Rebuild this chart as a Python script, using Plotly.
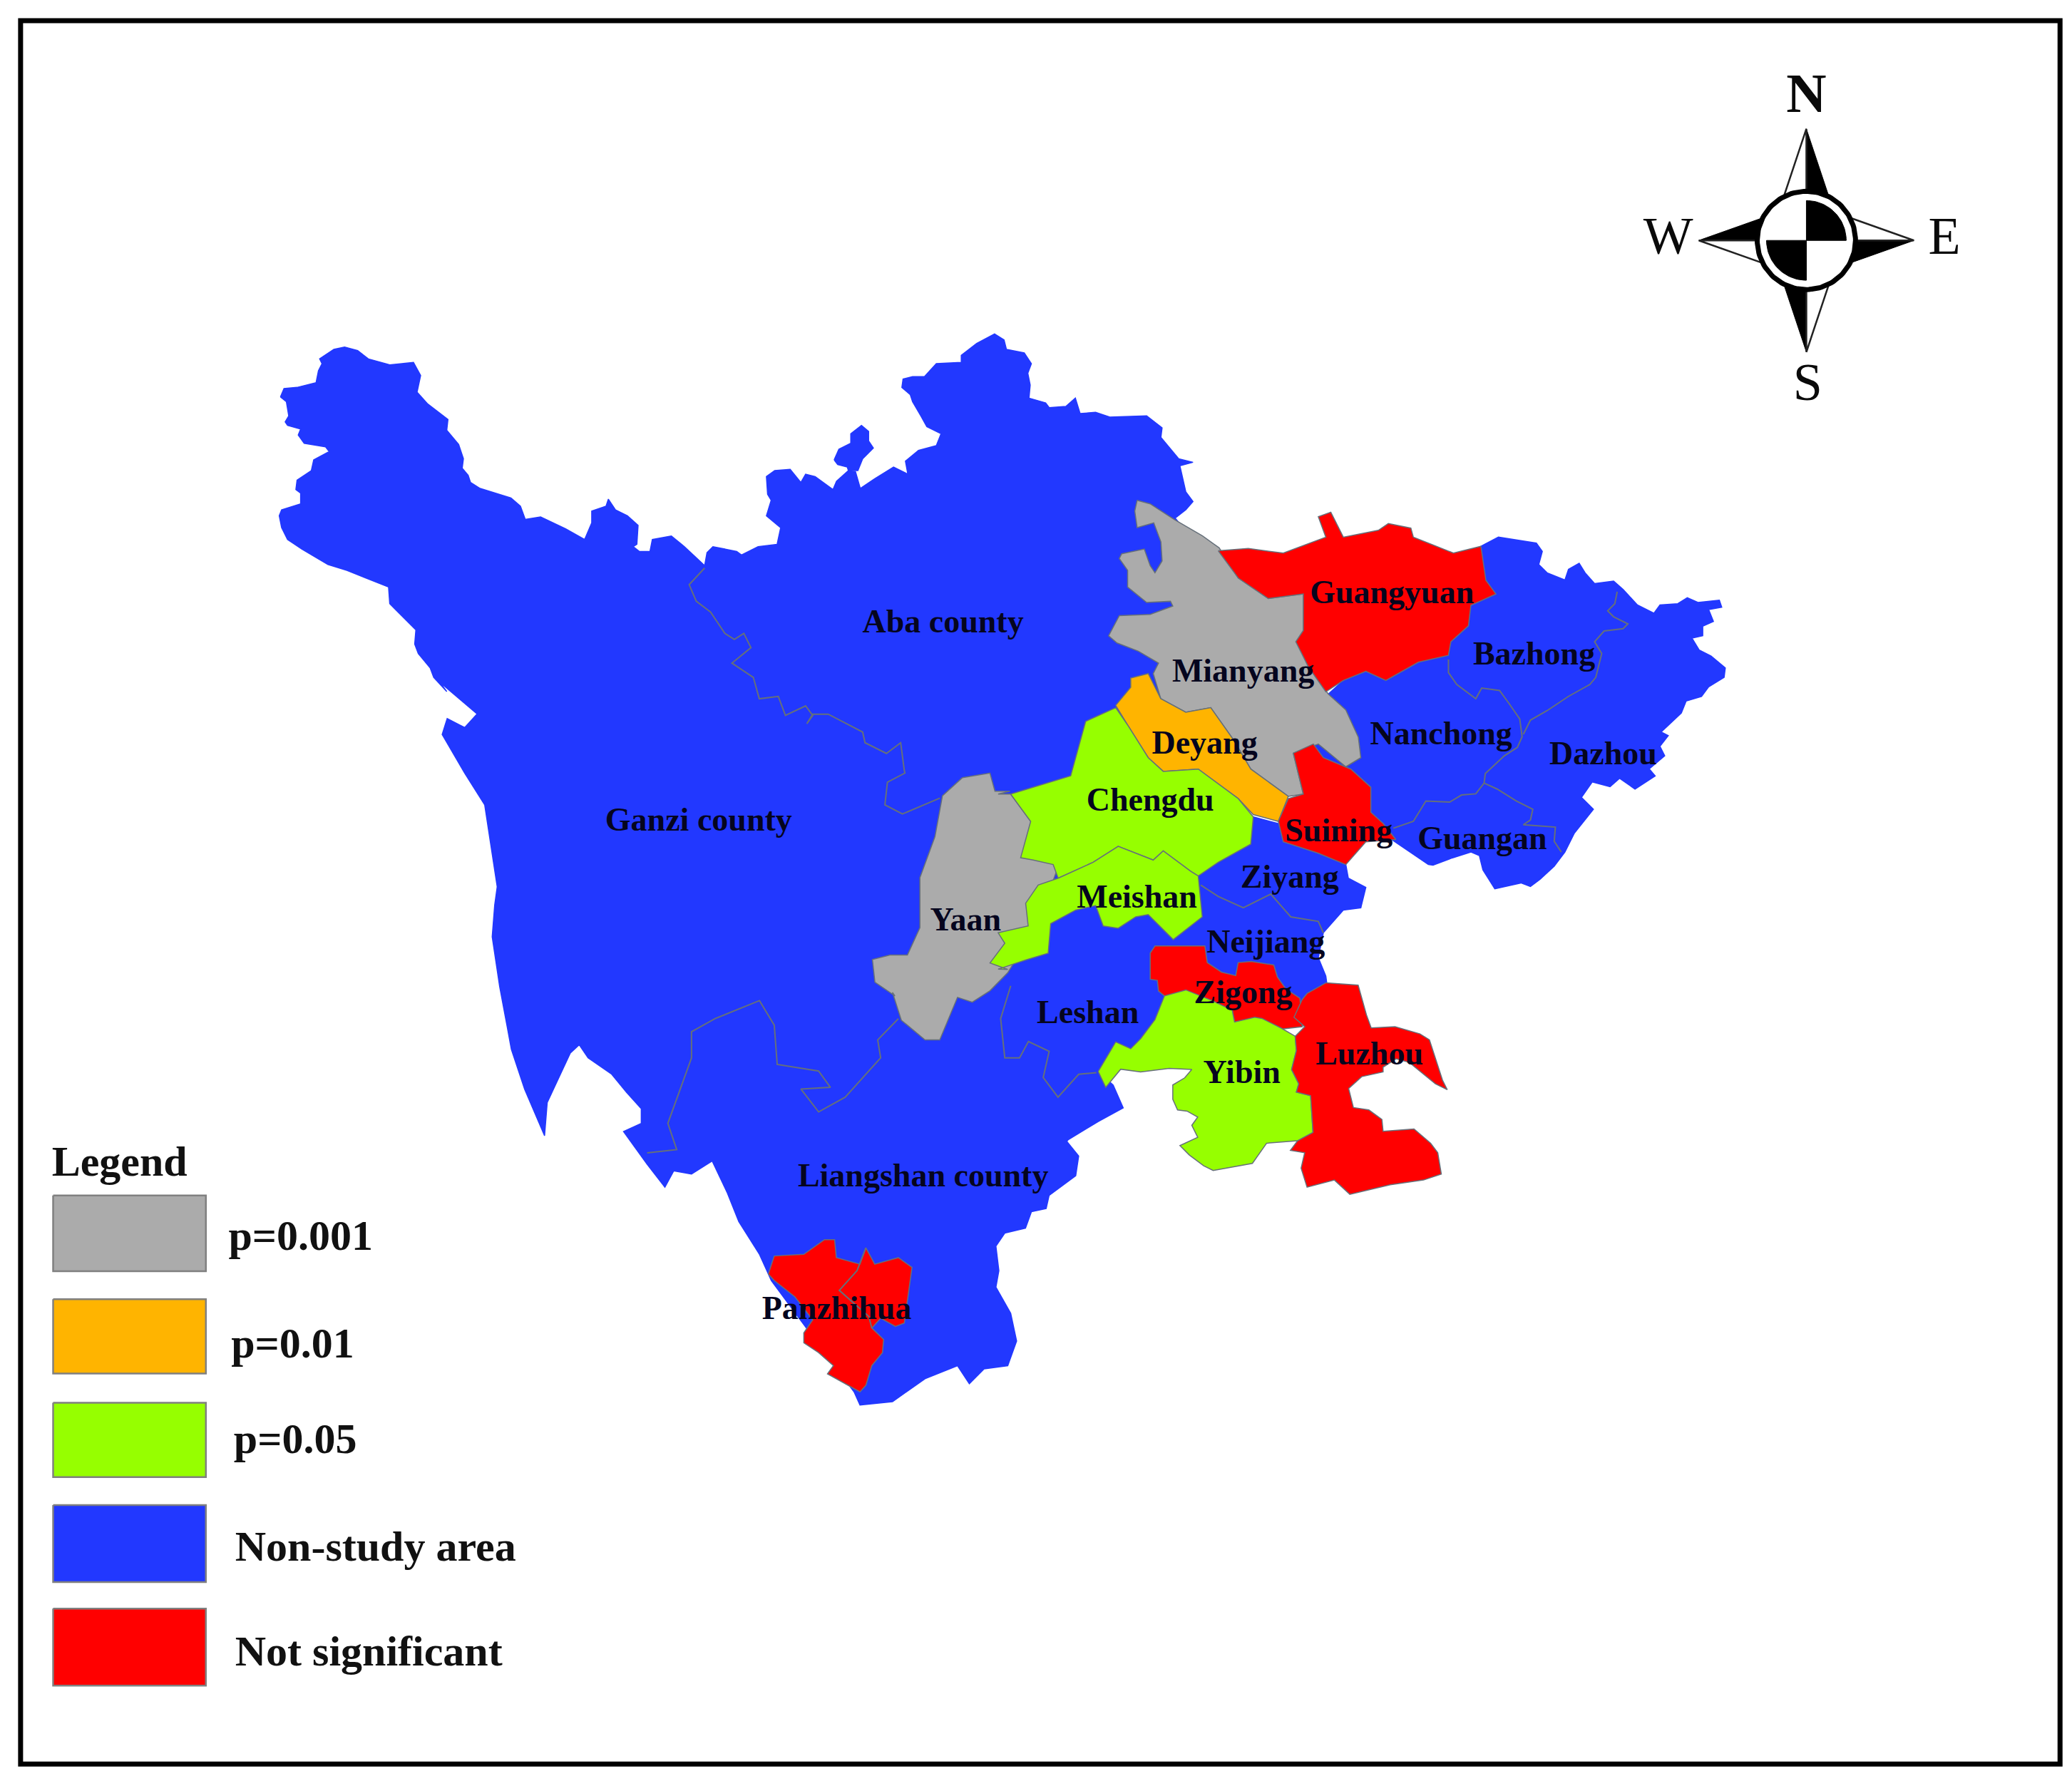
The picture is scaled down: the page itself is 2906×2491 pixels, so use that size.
import numpy as np
import plotly.graph_objects as go


# outlines were traced on crops of the map, each list is in that crop's own units
def crop1(pts):
    return [(187.9 + x / 2.655, 236.2 + y / 2.921) for x, y in pts]


def crop2(pts):
    return [(751.5 + x / 2.655, 365.0 + y / 2.921) for x, y in pts]


def crop3(pts):
    return [(429.4 + x / 2.247, 697.8 + y / 4.057) for x, y in pts]


def win(x0, y0, pts):
    # 3x window whose corner sits at x0, y0 of the full size picture
    return [((x0 + x / 3) / 1.863, (y0 + y / 3) / 1.863) for x, y in pts]


GREY = "#ABABAB"
ORANGE = "#FFB400"
GREEN = "#96FF00"
BLUE = "#2238FF"
RED = "#FF0000"
EDGE = "#66707A"
TEXT = "#05051E"

# Map regions
west_blue = (
    win(380, 470, [(40, 260), (55, 225), (110, 220), (190, 200), (200, 150), (215, 120), (205, 100), (265, 60), (310, 50),
                   (365, 65), (410, 100), (500, 125), (600, 115), (630, 170), (615, 240), (660, 290), (745, 355),
                   (740, 400), (790, 460), (810, 520), (805, 560), (830, 590), (840, 620), (880, 645), (1010, 685),
                   (1050, 720), (1070, 775), (1135, 765), (1240, 815), (1320, 860), (1350, 790), (1350, 740), (1410, 720),
                   (1420, 690), (1450, 735), (1500, 760)])
    + win(860, 580, [(105, 470), (100, 550), (85, 560), (110, 580), (155, 580), (165, 530), (245, 515), (300, 560),
                     (385, 640), (395, 585), (420, 560), (520, 580), (540, 595), (610, 560), (690, 550), (705, 480),
                     (645, 430), (665, 365), (650, 340), (645, 265), (680, 240), (745, 235), (790, 290), (810, 255),
                     (850, 265), (925, 320), (940, 285), (990, 240), (1020, 245), (1040, 315), (1100, 275), (1180, 225),
                     (1240, 255), (1230, 200), (1285, 155), (1360, 135), (1380, 85), (1320, 55), (1295, 10)])
    + win(1280, 440, [(0, 370), (-10, 340), (-45, 310), (-40, 275), (0, 265), (50, 265), (100, 210), (205, 205), (205, 175),
                      (270, 125), (345, 85), (385, 110), (395, 150), (470, 165), (500, 210), (485, 250), (495, 300),
                      (490, 355), (560, 375), (575, 395), (645, 390), (685, 355), (705, 420), (770, 415), (830, 435),
                      (985, 430), (1050, 480), (1045, 520), (1120, 610), (1180, 625), (1125, 640), (1150, 750), (1180, 790),
                      (1150, 825), (1105, 860)])
    + crop2([(450, 200), (450, 500), (480, 720), (400, 900), (360, 1000), (360, 1110), (340, 1190), (300, 1250),
             (200, 1290), (230, 1320), (250, 1370), (200, 1400), (140, 1440)])
    + crop3([(840, 655), (860, 700), (855, 760), (810, 820), (805, 860), (780, 870), (770, 920), (735, 935), (720, 975),
             (725, 1050), (720, 1100), (745, 1180), (755, 1265), (740, 1340), (700, 1350), (675, 1395), (655, 1340),
             (600, 1380), (545, 1450), (490, 1460), (480, 1420), (430, 1300), (340, 1080), (320, 1000), (285, 900),
             (265, 810), (240, 715), (205, 755), (175, 745), (160, 795), (130, 725), (90, 625), (120, 600), (120, 555),
             (95, 505), (70, 450), (30, 400), (15, 360), (0, 385)])
    + [(412, 830), (410, 855), (395, 820), (385, 790)]
    + crop1([(515, 1568), (500, 1480), (485, 1370), (490, 1300), (495, 1260), (470, 1080), (430, 1010), (385, 925),
             (395, 890), (430, 910), (455, 880), (380, 810)])
    + win(380, 470, [(740, 1500), (685, 1440), (670, 1400), (620, 1340), (605, 1300), (610, 1240), (520, 1150), (500, 1130),
                     (495, 1060), (420, 1030), (320, 990), (240, 965), (130, 900), (70, 860), (45, 810), (35, 760),
                     (45, 735), (125, 710), (125, 665), (105, 650), (110, 610), (170, 570), (180, 525), (245, 490),
                     (230, 470), (140, 455), (115, 420), (125, 395), (70, 380), (60, 365), (75, 340), (65, 280)])
)
aba_islet = win(860, 580, [(930, 195), (950, 150), (1000, 125), (1000, 85), (1045, 50), (1075, 75), (1075, 115), (1095, 145),
                           (1050, 190), (1030, 240), (990, 240), (985, 225), (945, 215)])
east_blue = (
    crop2([(945, 265), (965, 135), (1000, 115)])
    + win(2000, 760, [(465, 5), (490, 40), (475, 95), (510, 130), (585, 160), (600, 115), (645, 90), (670, 130), (710, 175),
                      (790, 165), (830, 200), (890, 265), (960, 300), (985, 265), (1060, 260), (1100, 235), (1145, 255),
                      (1235, 245), (1245, 275), (1190, 285), (1210, 335), (1165, 355), (1165, 395), (1120, 405),
                      (1150, 455), (1200, 480), (1260, 530), (1255, 570), (1190, 610), (1160, 650), (1095, 670),
                      (1075, 720), (990, 800), (1020, 815), (985, 860), (1005, 900), (940, 955), (965, 985), (880, 1040),
                      (815, 995), (775, 1030), (700, 1010), (655, 1075), (705, 1125), (625, 1225), (585, 1305), (540, 1365),
                      (480, 1420), (440, 1450), (400, 1435), (290, 1460), (265, 1420), (240, 1380), (225, 1320), (190, 1305),
                      (110, 1330), (30, 1360)])
    + crop2([(860, 835), (800, 790), (760, 760), (700, 720), (620, 700), (620, 550), (695, 495), (660, 460), (690, 430),
             (735, 410), (775, 430), (840, 390), (900, 375), (905, 345), (940, 310)])
)
ziyang_neijiang = crop2([(510, 730), (560, 745), (570, 785), (640, 810), (695, 835), (700, 865), (735, 885), (725, 930),
                         (690, 935), (650, 985), (640, 1040), (655, 1080), (660, 1120), (620, 1160), (560, 1110), (470, 1100),
                         (420, 1070), (400, 1030), (330, 1030), (340, 1000), (408, 950), (400, 860), (440, 830), (505, 790)])
yaan = (
    crop1([(1425, 1020), (1385, 1060), (1370, 1150), (1340, 1240), (1340, 1350), (1315, 1410), (1280, 1410),
           (1245, 1420), (1250, 1470), (1290, 1500)])
    + crop3([(545, 200), (560, 285), (600, 345), (625, 345), (655, 215), (680, 230), (710, 195), (740, 140)])
    + crop2([(60, 1000), (110, 870), (120, 840), (65, 740), (25, 680), (0, 680)])
    + crop1([(1520, 1050), (1490, 1050), (1480, 1010)])
)
mianyang = (
    win(1280, 440, [(945, 785), (1000, 800), (1100, 865), (1220, 935), (1290, 985)])
    + crop2([(480, 205), (540, 250), (610, 240), (610, 330), (600, 345), (620, 400), (660, 460), (695, 495), (720, 555),
             (725, 600), (695, 620), (640, 570), (590, 590), (610, 680), (580, 685), (505, 625), (470, 560), (425, 490),
             (375, 500), (325, 470), (310, 415)])
    + win(1280, 440, [(1035, 1470), (950, 1420), (860, 1385), (825, 1355), (870, 1270), (1000, 1265), (1095, 1230),
                      (1085, 1210), (985, 1215), (905, 1150), (905, 1080), (870, 1030), (880, 1010), (975, 990), (1000, 1060),
                      (1020, 1090), (1050, 1040), (1045, 960), (1015, 880), (945, 900), (935, 830)])
)
deyang = crop2([(235, 485), (265, 445), (265, 425), (300, 415), (325, 470), (375, 500), (425, 490), (470, 560), (505, 625),
                (580, 685), (560, 740), (510, 725), (480, 690), (400, 625), (330, 630), (300, 600), (260, 530)])
chengdu = crop2([(25, 680), (100, 655), (145, 640), (175, 520), (235, 490), (260, 530), (300, 600), (330, 630), (400, 625),
                 (480, 690), (510, 730), (505, 790), (440, 830), (400, 860), (385, 850), (330, 805), (310, 825),
                 (240, 795), (190, 830), (120, 865), (110, 835), (70, 825), (45, 820), (65, 740)])
meishan = (
    crop2([(120, 865), (190, 830), (240, 795), (310, 825), (330, 805), (385, 850), (400, 860), (408, 950), (350, 1000),
           (300, 945), (275, 950), (240, 975), (210, 970), (195, 925), (155, 935), (105, 965), (100, 1030), (55, 1045),
           (0, 1065)])
    + crop3([(740, 130), (710, 110), (735, 50)])
    + crop2([(0, 985), (60, 970), (55, 920), (80, 880)])
)
guangyuan = crop2([(440, 145), (500, 140), (570, 150), (630, 125), (655, 115), (640, 70), (665, 60), (690, 115), (760, 100),
                   (780, 85), (825, 95), (830, 115), (910, 150), (965, 135), (975, 210), (995, 240), (945, 265),
                   (940, 310), (905, 345), (900, 375), (840, 390), (775, 430), (735, 410), (690, 430), (655, 455),
                   (620, 400), (595, 345), (610, 320), (610, 240), (540, 250), (480, 205)])
suining = crop2([(590, 590), (630, 570), (650, 600), (705, 625), (745, 665), (745, 720), (770, 745), (795, 780), (735, 785),
                 (695, 835), (640, 810), (570, 785), (560, 740), (580, 690), (610, 680)])
zigong = win(1600, 1340, [(40, 50), (40, -10), (60, -40), (270, -40), (280, 30), (340, 70), (400, 85), (410, 30), (465, 25),
                          (560, 40), (575, 90), (610, 140), (670, 180), (680, 300), (590, 310), (510, 265), (395, 280),
                          (385, 230), (100, 170), (75, 150), (70, 105), (40, 100)])
yibin = (
    crop2([(200, 1290), (235, 1225), (265, 1240)])
    + win(1600, 1340, [(0, 350), (60, 270), (100, 170), (190, 145), (300, 190), (385, 230), (395, 280), (480, 260), (510, 265),
                       (590, 305), (650, 340), (655, 400), (635, 480), (665, 540), (655, 575), (715, 590), (725, 745),
                       (660, 780), (530, 790), (470, 875), (305, 905), (265, 885), (205, 840), (165, 800), (240, 765),
                       (215, 715), (240, 680), (195, 655), (155, 650), (135, 605), (135, 545), (185, 515), (215, 480),
                       (120, 475), (0, 490)])
    + crop2([(245, 1285), (215, 1325)])
)
luzhou = win(1600, 1340, [(700, 160), (780, 115), (915, 125), (950, 250), (970, 305), (1070, 300), (1175, 330), (1215, 355),
                          (1270, 525), (1290, 565), (1240, 540), (1180, 490), (1130, 450), (1075, 435), (1020, 470),
                          (1020, 490), (930, 510), (875, 560), (895, 640), (960, 650), (1015, 690), (1020, 740), (1150, 730),
                          (1220, 790), (1250, 830), (1265, 920), (1190, 945), (1050, 965), (880, 1005), (815, 945),
                          (700, 975), (675, 895), (690, 830), (630, 820), (660, 780), (725, 745), (715, 590), (655, 575),
                          (665, 540), (635, 480), (655, 400), (650, 340), (690, 300), (645, 260), (680, 185)])
panzhihua = crop3([(335, 1060), (345, 1005), (395, 1000), (430, 955), (447, 955), (450, 1010), (490, 1030), (500, 980),
                   (515, 1030), (555, 1010), (578, 1040), (572, 1120), (565, 1210), (550, 1220), (525, 1195), (510, 1225),
                   (530, 1260), (528, 1300), (510, 1340), (500, 1400), (490, 1420), (435, 1365), (445, 1340), (420, 1300),
                   (395, 1270), (395, 1240), (410, 1200), (380, 1130), (345, 1080)])

# Inner borders between regions of the same colour
border_ganzi_aba = (
    win(860, 580, [(385, 650), (320, 720), (350, 790), (410, 835), (470, 925), (510, 950), (550, 925), (580, 985), (500, 1050),
                   (590, 1110), (615, 1200), (695, 1190), (725, 1270), (810, 1230), (840, 1270), (815, 1305), (840, 1265),
                   (905, 1265), (1050, 1340), (1060, 1385), (1150, 1430), (1210, 1385), (1225, 1500)])
    + crop1([(1310, 1010), (1275, 1030), (1270, 1080), (1305, 1100), (1380, 1065)])
)
border_liangshan = crop3([(130, 690), (180, 680), (165, 600), (205, 400), (205, 320), (245, 280), (320, 225), (345, 300),
                          (350, 420), (420, 440), (440, 490), (390, 495), (420, 565), (465, 520), (525, 400), (520, 345),
                          (555, 280)])
border_leshan = crop3([(745, 180), (728, 280), (735, 400), (760, 400), (775, 350), (810, 380), (800, 460), (825, 520),
                       (860, 450), (890, 445)])
border_bazhong_dazhou = win(2000, 760, [(805, 210), (795, 260), (765, 290), (790, 315), (850, 345), (830, 365), (750, 375),
                                        (710, 420), (740, 470), (715, 570), (690, 600), (600, 650), (510, 710), (440, 750),
                                        (410, 810)])
border_bazhong_nanchong = win(2000, 760, [(95, 495), (95, 550), (130, 600), (210, 660), (235, 615), (310, 625), (350, 680),
                                          (395, 745), (405, 820), (385, 865), (330, 900), (250, 975), (245, 1015)])
border_nanchong_guangan = (
    win(2000, 760, [(245, 1015), (210, 1060), (150, 1065), (100, 1095), (0, 1090)])
    + crop2([(830, 740), (790, 755)])
)
border_guangan_dazhou = win(2000, 760, [(245, 1015), (300, 1040), (380, 1090), (450, 1125), (440, 1170), (410, 1190),
                                        (545, 1200), (540, 1260), (570, 1305)])
border_ziyang_neijiang = crop2([(405, 880), (440, 905), (490, 930), (545, 900), (585, 950), (640, 960), (650, 985)])
border_panzhihua = crop3([(500, 980), (485, 1050), (455, 1110), (505, 1190), (510, 1225)])

region_names = ["West", "Aba islet", "East", "Ziyang-Neijiang", "Yaan", "Mianyang", "Deyang", "Chengdu", "Meishan",
                "Guangyuan", "Suining", "Zigong", "Yibin", "Luzhou", "Panzhihua"]
region_shapes = [west_blue, aba_islet, east_blue, ziyang_neijiang, yaan, mianyang, deyang, chengdu, meishan,
                 guangyuan, suining, zigong, yibin, luzhou, panzhihua]
region_colors = [BLUE, BLUE, BLUE, BLUE, GREY, GREY, ORANGE, GREEN, GREEN, RED, RED, RED, GREEN, RED, RED]
inner_borders = [border_ganzi_aba, border_liangshan, border_leshan, border_bazhong_dazhou, border_bazhong_nanchong,
                 border_nanchong_guangan, border_guangan_dazhou, border_ziyang_neijiang, border_panzhihua]

# Labels on the map
city_names = ["Aba county", "Ganzi county", "Yaan", "Mianyang", "Guangyuan", "Bazhong", "Nanchong", "Dazhou", "Deyang",
              "Chengdu", "Suining", "Guangan", "Ziyang", "Meishan", "Neijiang", "Zigong", "Leshan", "Luzhou", "Yibin",
              "Liangshan county", "Panzhihua"]
city_x = [710, 526, 727, 936, 1048, 1155, 1085, 1207, 907, 866, 1008, 1116, 971, 856, 953, 936, 819, 1031, 935, 695, 630]
city_y = [470, 619, 694, 507, 448, 494, 554, 569, 561, 604, 627, 633, 662, 677, 711, 749, 764, 795, 809, 887, 987]

# Legend
legend_labels = ["p=0.001", "p=0.01", "p=0.05", "Non-study area", "Not significant"]
legend_colors = [GREY, ORANGE, GREEN, BLUE, RED]
legend_top = [900, 978, 1056, 1133, 1211]
legend_bottom = [957, 1034, 1112, 1191, 1269]
legend_text_x = [172, 174, 176, 177, 177]
legend_text_y = [933, 1014, 1086, 1167, 1246]

# Compass
compass_x = 1360
compass_y = 181
compass_tip = 84
compass_base = 17
compass_radius = 37
compass_letters = ["S", "W", "E"]
compass_letter_x = [1361, 1256, 1464]
compass_letter_y = [291, 181, 181]

fig = go.Figure()


def add_poly(xs, ys, fill, line_color, line_width=2.0, name=""):
    fig.add_trace(go.Scatter(x=xs, y=ys, mode="lines", fill="toself", fillcolor=fill, name=name,
                             line=dict(color=line_color, width=line_width), hoverinfo="skip", showlegend=False))


for name, shape, color in zip(region_names, region_shapes, region_colors):
    xs, ys = zip(*shape)
    add_poly(list(xs) + [xs[0]], list(ys) + [ys[0]], color, EDGE if color != BLUE else color, 1.5, name)

for border in inner_borders:
    xs, ys = zip(*border)
    fig.add_trace(go.Scatter(x=xs, y=ys, mode="lines", line=dict(color=EDGE, width=2.0),
                             hoverinfo="skip", showlegend=False))

fig.add_trace(go.Scatter(x=city_x, y=city_y, mode="text", text=city_names, textposition="middle center",
                         textfont=dict(family="Liberation Serif", size=46, color=TEXT, weight="bold"),
                         hoverinfo="skip", showlegend=False))

# Legend patches and their labels
for label, color, top, bottom in zip(legend_labels, legend_colors, legend_top, legend_bottom):
    add_poly([40, 155, 155, 40, 40], [top, top, bottom, bottom, top], color, "#808080", 2.5, label)

fig.add_trace(go.Scatter(x=legend_text_x, y=legend_text_y, mode="text", text=legend_labels, textposition="middle right",
                         textfont=dict(family="Liberation Serif", size=60, color="#111111", weight="bold"),
                         hoverinfo="skip", showlegend=False))
fig.add_trace(go.Scatter(x=[39], y=[877], mode="text", text=["Legend"], textposition="middle right",
                         textfont=dict(family="Liberation Serif", size=60, color="#111111", weight="bold"),
                         hoverinfo="skip", showlegend=False))

# Compass arms, half black and half white
cx, cy, tip, base = compass_x, compass_y, compass_tip, compass_base
add_poly([cx, cx + base, cx, cx], [cy - tip, cy - compass_radius + 4, cy - compass_radius, cy - tip], "black", "black", 1)
add_poly([cx, cx - base, cx, cx], [cy - tip, cy - compass_radius + 4, cy - compass_radius, cy - tip], "white", "#222222", 2.5)
add_poly([cx, cx - base, cx, cx], [cy + tip, cy + compass_radius - 4, cy + compass_radius, cy + tip], "black", "black", 1)
add_poly([cx, cx + base, cx, cx], [cy + tip, cy + compass_radius - 4, cy + compass_radius, cy + tip], "white", "#222222", 2.5)
add_poly([cx - tip + 3, cx - compass_radius + 4, cx - compass_radius, cx - tip + 3],
         [cy, cy - base, cy, cy], "black", "black", 1)
add_poly([cx - tip + 3, cx - compass_radius + 4, cx - compass_radius, cx - tip + 3],
         [cy, cy + base, cy, cy], "white", "#222222", 2.5)
add_poly([cx + tip - 3, cx + compass_radius - 4, cx + compass_radius, cx + tip - 3],
         [cy, cy + base, cy, cy], "black", "black", 1)
add_poly([cx + tip - 3, cx + compass_radius - 4, cx + compass_radius, cx + tip - 3],
         [cy, cy - base, cy, cy], "white", "#222222", 2.5)

# Ring with the two black quarters
angle = np.linspace(0, 2 * np.pi, 121)
add_poly(cx + compass_radius * np.cos(angle), cy + compass_radius * np.sin(angle), "white", "black", 7)
quarter = np.linspace(0, np.pi / 2, 31)
inner = compass_radius - 7
add_poly(np.r_[cx, cx + inner * np.sin(quarter), cx], np.r_[cy, cy - inner * np.cos(quarter), cy], "black", "black", 1)
add_poly(np.r_[cx, cx - inner * np.sin(quarter), cx], np.r_[cy, cy + inner * np.cos(quarter), cy], "black", "black", 1)

fig.add_trace(go.Scatter(x=[1360], y=[74], mode="text", text=["N"], textposition="middle center",
                         textfont=dict(family="Liberation Serif", size=78, color="#0A0A0A", weight="bold"),
                         hoverinfo="skip", showlegend=False))
fig.add_trace(go.Scatter(x=compass_letter_x, y=compass_letter_y, mode="text", text=compass_letters,
                         textposition="middle center",
                         textfont=dict(family="Liberation Serif", size=74, color="#0A0A0A"),
                         hoverinfo="skip", showlegend=False))

# Outer frame
fig.add_shape(type="rect", x0=15.5, y0=15.5, x1=1551, y1=1328, line=dict(color="black", width=7))

fig.update_layout(
    width=2906,
    height=2491,
    margin=dict(l=0, r=0, t=0, b=0),
    paper_bgcolor="white",
    plot_bgcolor="white",
    showlegend=False,
    xaxis=dict(range=[0, 1560], visible=False, fixedrange=True),
    yaxis=dict(range=[1337, 0], visible=False, fixedrange=True),
)

fig.write_html("out.html", config={"displayModeBar": False}, post_script="document.body.style.margin='0';")
